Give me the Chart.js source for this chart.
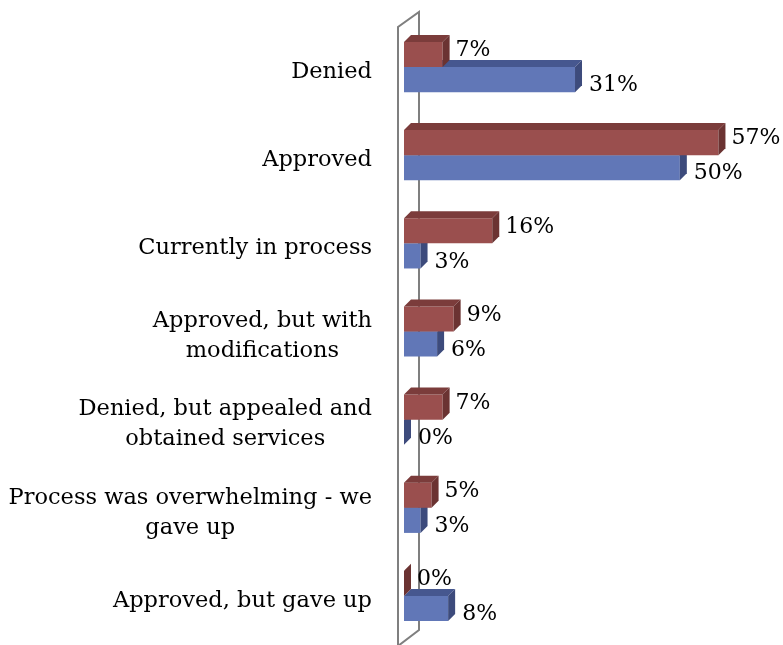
<!DOCTYPE html>
<html>
<head>
<meta charset="utf-8">
<script src="https://cdn.jsdelivr.net/npm/chart.js@4"></script>
<style>
  html, body { margin: 0; padding: 0; background: #ffffff; }
  #wrap { width: 783px; height: 645px; position: relative; }
</style>
</head>
<body>
<div id="wrap"><canvas id="c" width="783" height="645"></canvas></div>
<script>
// ---- data ----
const categories = [
  ["Denied"],
  ["Approved"],
  ["Currently in process"],
  ["Approved, but with", "modifications"],
  ["Denied, but appealed and", "obtained services"],
  ["Process was overwhelming - we", "gave up"],
  ["Approved, but gave up"]
];
const redValues  = [7, 57, 16, 9, 7, 5, 0];
const blueValues = [31, 50, 3, 6, 0, 3, 8];
const xMin = 0;
const xMax = 60;

// ---- styles ----
const DEPTH = 7;
const RED = { front: "#9a4f4e", top: "#7b3c3b", side: "#6b3332" };
const BLUE = { front: "#6177b7", top: "#46578f", side: "#3d4b7c" };
const faceColors = [RED, BLUE];
const labelFont = "22px 'DejaVu Serif', 'Liberation Serif', serif";
const catFont = "22.5px 'DejaVu Serif', 'Liberation Serif', serif";

const wallPlugin = {
  id: "wall",
  beforeDatasetsDraw(chart) {
    const { ctx, chartArea: a } = chart;
    const L = a.left - 6, R = a.left + 15;
    ctx.save();
    ctx.strokeStyle = "#7f7f7f";
    ctx.lineWidth = 2;
    ctx.beginPath();
    ctx.moveTo(L, a.bottom + 6);
    ctx.lineTo(L, a.top + 4);
    ctx.lineTo(R, a.top - 11);
    ctx.lineTo(R, a.bottom - 10);
    ctx.lineTo(L, a.bottom + 6);
    ctx.stroke();
    ctx.restore();
  }
};

const facesPlugin = {
  id: "faces",
  afterDatasetDraw(chart, args) {
    const { ctx } = chart;
    const meta = args.meta;
    const col = faceColors[args.index];
    const d = DEPTH;
    ctx.save();
    meta.data.forEach((bar) => {
      const p = bar.getProps(["x", "y", "base", "height"], true);
      const x0 = p.base, x1 = p.x;
      const top = p.y - p.height / 2, bot = p.y + p.height / 2;
      ctx.fillStyle = col.top;
      ctx.beginPath();
      ctx.moveTo(x0, top);
      ctx.lineTo(x0 + d, top - d);
      ctx.lineTo(x1 + d, top - d);
      ctx.lineTo(x1, top);
      ctx.closePath();
      ctx.fill();
      ctx.fillStyle = col.side;
      ctx.beginPath();
      ctx.moveTo(x1, top);
      ctx.lineTo(x1 + d, top - d);
      ctx.lineTo(x1 + d, bot - d);
      ctx.lineTo(x1, bot);
      ctx.closePath();
      ctx.fill();
    });
    ctx.restore();
  }
};

const labelsPlugin = {
  id: "labels",
  afterDatasetsDraw(chart) {
    const { ctx } = chart;
    ctx.save();
    ctx.fillStyle = "#000000";
    ctx.font = labelFont;
    ctx.textAlign = "left";
    ctx.textBaseline = "middle";
    chart.data.datasets.forEach((ds, di) => {
      const meta = chart.getDatasetMeta(di);
      meta.data.forEach((bar, i) => {
        const p = bar.getProps(["x", "y"], true);
        const dy = di === 0 ? -4 : 6;
        const gx = di === 0 ? 6 : 7;
        ctx.fillText(ds.data[i] + "%", p.x + DEPTH + gx, p.y + dy);
      });
    });
    const ys = chart.scales.y;
    const rightEdge = chart.chartArea.left - 32;
    ctx.font = catFont;
    ctx.textAlign = "center";
    const lh = 30;
    categories.forEach((lines, i) => {
      const cy = ys.getPixelForValue(i) + 5;
      const w = Math.max(...lines.map((l) => ctx.measureText(l).width));
      const cx = rightEdge - w / 2;
      const y0 = cy - (lines.length - 1) * lh / 2;
      lines.forEach((l, k) => ctx.fillText(l, cx, y0 + k * lh));
    });
    ctx.restore();
  }
};

new Chart(document.getElementById("c"), {
  type: "bar",
  data: {
    labels: categories.map((c) => c.join(" ")),
    datasets: [
      { label: "Series 2", data: redValues, backgroundColor: RED.front, borderWidth: 0 },
      { label: "Series 1", data: blueValues, backgroundColor: BLUE.front, borderWidth: 0 }
    ]
  },
  options: {
    indexAxis: "y",
    responsive: false,
    animation: false,
    layout: { padding: { left: 404, right: 48, top: 23, bottom: 5 } },
    datasets: { bar: { categoryPercentage: 0.57, barPercentage: 1.0 } },
    scales: {
      x: { display: false, min: xMin, max: xMax },
      y: { display: false }
    },
    plugins: {
      legend: { display: false },
      tooltip: { enabled: false }
    }
  },
  plugins: [wallPlugin, facesPlugin, labelsPlugin]
});
</script>
</body>
</html>
